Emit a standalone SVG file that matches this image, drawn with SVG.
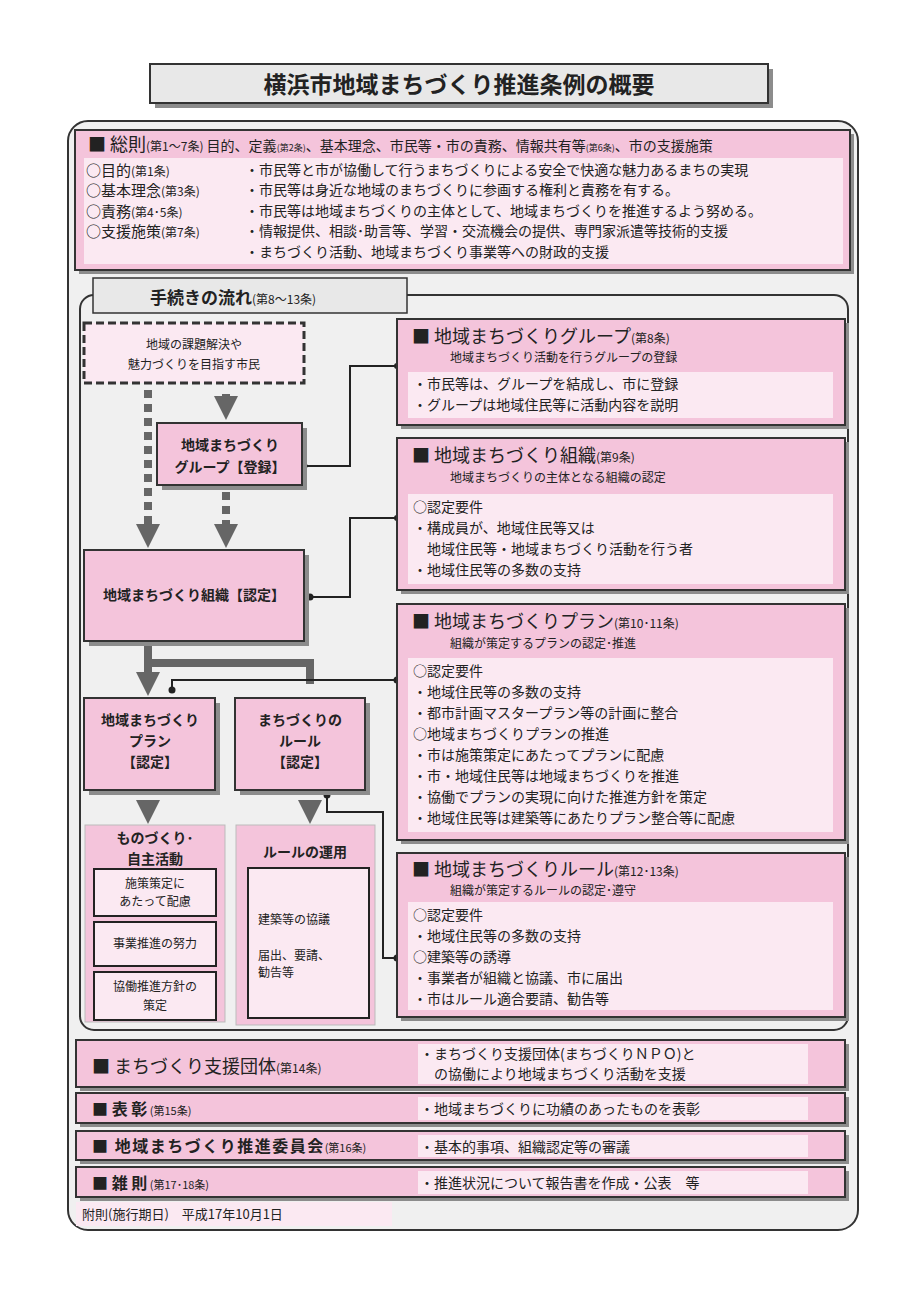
<svg xmlns="http://www.w3.org/2000/svg" width="924" height="1296" viewBox="0 0 924 1296">
<style>
text{font-family:"Noto Sans CJK JP","Noto Sans CJK SC",sans-serif;fill:#222}
.pk{fill:#f4c4db;stroke:#333;stroke-width:2}
.lt{fill:#fbe9f2}
.sh{fill:#8c8c8c}
.b{font-weight:bold}
.h{font-size:18px}
.s{font-size:12px}
.t{font-size:14px}
.c{stroke:#222;stroke-width:2;fill:none}
.g{stroke:#666;stroke-width:8;fill:none}
.gd{stroke:#666;stroke-width:8;fill:none;stroke-dasharray:8 6}
</style>
<defs><marker id="ah" markerWidth="3" markerHeight="3" refX="1.5" refY="1.5" orient="auto" markerUnits="strokeWidth"><path d="M0,0L3,1.5L0,3z" fill="#666"/></marker></defs>
<rect width="924" height="1296" fill="#fff"/>
<g id="title"><rect x="155" y="69" width="618" height="39" class="sh"/><rect x="150" y="64" width="618" height="39" fill="#e8e8e8" stroke="#333" stroke-width="2"/><text x="459" y="93" text-anchor="middle" class="b" font-size="23">横浜市地域まちづくり推進条例の概要</text></g>
<rect x="68" y="121" width="790" height="1109" rx="20" fill="#f0f0f0" stroke="#333" stroke-width="2"/>
<g id="soku"><rect x="79" y="134" width="775" height="140" class="sh"/><rect x="75" y="130" width="775" height="140" class="pk"/><rect x="84" y="158" width="759" height="106" class="lt"/>
<text x="88" y="151" class="h">■ 総則<tspan class="s">(第1～7条)</tspan><tspan font-size="14"> 目的、定義</tspan><tspan font-size="9">(第2条)</tspan><tspan font-size="14">、基本理念、市民等・市の責務、情報共有等</tspan><tspan font-size="9">(第6条)</tspan><tspan font-size="14">、市の支援施策</tspan></text>
<g class="t"><text x="86" y="176" font-size="15">○目的<tspan class="s">(第1条)</tspan></text><text x="86" y="196" font-size="15">○基本理念<tspan class="s">(第3条)</tspan></text><text x="86" y="217" font-size="15">○責務<tspan class="s">(第4･5条)</tspan></text><text x="86" y="237" font-size="15">○支援施策<tspan class="s">(第7条)</tspan></text>
<text x="245" y="175">・市民等と市が協働して行うまちづくりによる安全で快適な魅力あるまちの実現</text><text x="245" y="195">・市民等は身近な地域のまちづくりに参画する権利と責務を有する。</text><text x="245" y="216">・市民等は地域まちづくりの主体として、地域まちづくりを推進するよう努める。</text><text x="245" y="236">・情報提供、相談･助言等、学習・交流機会の提供、専門家派遣等技術的支援</text><text x="245" y="257">・まちづくり活動、地域まちづくり事業等への財政的支援</text></g></g>
<rect x="80" y="295" width="768" height="735" rx="14" fill="#f0f0f0" stroke="#333" stroke-width="2"/>
<g id="tab"><rect x="93" y="278" width="314" height="35" fill="#e8e8e8" stroke="#333" stroke-width="1.5"/><text x="150" y="304" class="b" font-size="17">手続きの流れ<tspan class="s" font-weight="normal">(第8～13条)</tspan></text></g>
<g id="connectors">
<path d="M148,390V536" class="gd" marker-end="url(#ah)"/>
<path d="M226,394V408" class="g" marker-end="url(#ah)"/>
<path d="M226,492V536" class="gd" marker-end="url(#ah)"/>
<path d="M148,646V663H310V684M148,663V684" class="g" marker-end="url(#ah)"/>
<path d="M148,800V812" class="g" marker-end="url(#ah)"/>
<path d="M310,800V812" class="g" marker-end="url(#ah)"/>
<path d="M304,466H350V366H397M310,597H350V518H397M172,690V680H397M327,795V812H383V958H397" class="c"/>
<g fill="#222"><circle cx="304" cy="466" r="3.5"/><circle cx="310" cy="597" r="3.5"/><circle cx="172" cy="690" r="3.5"/><circle cx="397" cy="680" r="3.5"/><circle cx="327" cy="795" r="3.5"/><circle cx="397" cy="958" r="3.5"/><circle cx="397" cy="366" r="3"/><circle cx="397" cy="518" r="3"/></g>
</g>
<g id="citizen"><rect x="84" y="323" width="220" height="60" fill="#fbe9f2" stroke="#333" stroke-width="3" stroke-dasharray="8 4"/><text x="194" y="349" text-anchor="middle" class="s">地域の課題解決や</text><text x="194" y="369" text-anchor="middle" class="s">魅力づくりを目指す市民</text></g>
<g id="grp"><rect x="162" y="428" width="145" height="62" class="sh"/><rect x="157" y="423" width="145" height="62" class="pk"/><text x="230" y="450" text-anchor="middle" class="b t">地域まちづくり</text><text x="230" y="472" text-anchor="middle" class="b t">グループ【登録】</text></g>
<g id="org"><rect x="89" y="555" width="220" height="91" class="sh"/><rect x="84" y="550" width="220" height="91" class="pk"/><text x="194" y="600" text-anchor="middle" class="b t">地域まちづくり組織【認定】</text></g>
<g id="plan"><rect x="89" y="703" width="131" height="92" class="sh"/><rect x="84" y="698" width="131" height="92" class="pk"/><text x="150" y="725" text-anchor="middle" class="b t">地域まちづくり</text><text x="150" y="746" text-anchor="middle" class="b t">プラン</text><text x="150" y="767" text-anchor="middle" class="b t">【認定】</text></g>
<g id="rule"><rect x="240" y="703" width="130" height="92" class="sh"/><rect x="235" y="698" width="130" height="92" class="pk"/><text x="300" y="725" text-anchor="middle" class="b t">まちづくりの</text><text x="300" y="746" text-anchor="middle" class="b t">ルール</text><text x="300" y="767" text-anchor="middle" class="b t">【認定】</text></g>
<g id="mono"><rect x="85" y="825" width="140" height="197" fill="#f4c4db" stroke="#bbb"/><text x="155" y="843" text-anchor="middle" class="b t">ものづくり･</text><text x="155" y="864" text-anchor="middle" class="b t">自主活動</text>
<rect x="94" y="869" width="122" height="47" class="lt" stroke="#222" stroke-width="2"/><text x="155" y="888" text-anchor="middle" class="s">施策策定に</text><text x="155" y="906" text-anchor="middle" class="s">あたって配慮</text>
<rect x="94" y="922" width="122" height="44" class="lt" stroke="#222" stroke-width="2"/><text x="155" y="948" text-anchor="middle" class="s">事業推進の努力</text>
<rect x="94" y="972" width="122" height="48" class="lt" stroke="#222" stroke-width="2"/><text x="155" y="991" text-anchor="middle" class="s">協働推進方針の</text><text x="155" y="1010" text-anchor="middle" class="s">策定</text></g>
<g id="unyo"><rect x="236" y="825" width="139" height="200" fill="#f4c4db" stroke="#bbb"/><text x="305" y="857" text-anchor="middle" class="b t">ルールの運用</text>
<rect x="248" y="868" width="121" height="150" class="lt" stroke="#222" stroke-width="2"/><text x="258" y="924" class="s">建築等の協議</text><text x="258" y="960" class="s">届出、要請、</text><text x="258" y="977" class="s">勧告等</text></g>
<g id="rgrp"><rect x="401" y="323" width="448" height="106" class="sh"/><rect x="397" y="319" width="448" height="106" class="pk"/><rect x="408" y="372" width="425" height="46" class="lt"/><text x="412" y="343" class="h">■ 地域まちづくりグループ<tspan class="s">(第8条)</tspan></text><text x="450" y="362" class="s">地域まちづくり活動を行うグループの登録</text><text x="413" y="389" class="t">・市民等は、グループを結成し、市に登録</text><text x="413" y="410" class="t">・グループは地域住民等に活動内容を説明</text></g>
<g id="rorg"><rect x="401" y="442" width="448" height="152" class="sh"/><rect x="397" y="438" width="448" height="152" class="pk"/><rect x="408" y="494" width="425" height="90" class="lt"/><text x="412" y="462" class="h">■ 地域まちづくり組織<tspan class="s">(第9条)</tspan></text><text x="450" y="482" class="s">地域まちづくりの主体となる組織の認定</text><text x="413" y="512" class="t">○認定要件</text><text x="413" y="533" class="t">・構成員が、地域住民等又は</text><text x="413" y="554" class="t">　地域住民等・地域まちづくり活動を行う者</text><text x="413" y="575" class="t">・地域住民等の多数の支持</text></g>
<g id="rplan"><rect x="401" y="608" width="448" height="236" class="sh"/><rect x="397" y="604" width="448" height="236" class="pk"/><rect x="408" y="658" width="425" height="174" class="lt"/><text x="412" y="628" class="h">■ 地域まちづくりプラン<tspan class="s">(第10･11条)</tspan></text><text x="450" y="648" class="s">組織が策定するプランの認定･推進</text>
<text x="413" y="676" class="t">○認定要件</text><text x="413" y="697" class="t">・地域住民等の多数の支持</text><text x="413" y="718" class="t">・都市計画マスタープラン等の計画に整合</text><text x="413" y="739" class="t">○地域まちづくりプランの推進</text><text x="413" y="760" class="t">・市は施策策定にあたってプランに配慮</text><text x="413" y="781" class="t">・市・地域住民等は地域まちづくりを推進</text><text x="413" y="802" class="t">・協働でプランの実現に向けた推進方針を策定</text><text x="413" y="823" class="t">・地域住民等は建築等にあたりプラン整合等に配慮</text></g>
<g id="rrule"><rect x="401" y="857" width="448" height="164" class="sh"/><rect x="397" y="853" width="448" height="164" class="pk"/><rect x="408" y="902" width="425" height="108" class="lt"/><text x="412" y="876" class="h">■ 地域まちづくりルール<tspan class="s">(第12･13条)</tspan></text><text x="450" y="895" class="s">組織が策定するルールの認定･遵守</text>
<text x="413" y="920" class="t">○認定要件</text><text x="413" y="941" class="t">・地域住民等の多数の支持</text><text x="413" y="962" class="t">○建築等の誘導</text><text x="413" y="983" class="t">・事業者が組織と協議、市に届出</text><text x="413" y="1004" class="t">・市はルール適合要請、勧告等</text></g>
<g id="shien"><rect x="80" y="1044" width="769" height="47" class="sh"/><rect x="76" y="1040" width="769" height="47" class="pk"/><rect x="418" y="1044" width="390" height="40" class="lt"/><text x="92" y="1073" class="h">■ まちづくり支援団体<tspan class="s">(第14条)</tspan></text><text x="420" y="1059" class="t">・まちづくり支援団体(まちづくりＮＰＯ)と</text><text x="420" y="1079" class="t">　の協働により地域まちづくり活動を支援</text></g>
<g id="hyosho"><rect x="80" y="1097" width="769" height="30" class="sh"/><rect x="76" y="1093" width="769" height="30" class="pk"/><rect x="418" y="1097" width="390" height="23" class="lt"/><text x="92" y="1115" font-size="16" class="b">■ 表 彰<tspan font-size="11" font-weight="normal"> (第15条)</tspan></text><text x="420" y="1114" class="t">・地域まちづくりに功績のあったものを表彰</text></g>
<g id="iinkai"><rect x="80" y="1135" width="769" height="29" class="sh"/><rect x="76" y="1131" width="769" height="29" class="pk"/><rect x="418" y="1135" width="390" height="22" class="lt"/><text x="92" y="1152" font-size="16" class="b" letter-spacing="1.5">■ 地域まちづくり推進委員会<tspan font-size="11" font-weight="normal" letter-spacing="0">(第16条)</tspan></text><text x="420" y="1152" class="t">・基本的事項、組織認定等の審議</text></g>
<g id="zassoku"><rect x="80" y="1171" width="769" height="30" class="sh"/><rect x="76" y="1167" width="769" height="30" class="pk"/><rect x="418" y="1171" width="390" height="23" class="lt"/><text x="92" y="1189" font-size="16" class="b">■ 雑 則<tspan font-size="11" font-weight="normal"> (第17･18条)</tspan></text><text x="420" y="1188" class="t">・推進状況について報告書を作成・公表　等</text></g>
<g id="fusoku"><rect x="76" y="1202" width="316" height="24" class="lt"/><text x="82" y="1219" font-size="13">附則(施行期日)　平成17年10月1日</text></g>
</svg>
